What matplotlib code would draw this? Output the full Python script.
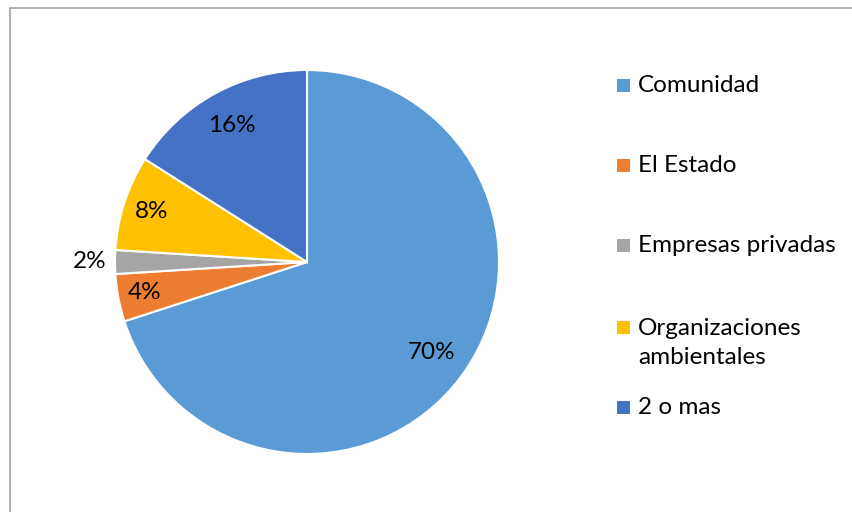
import matplotlib
matplotlib.use("Agg")
import matplotlib.pyplot as plt
from matplotlib.patches import Rectangle
import numpy as np

categories = ["Comunidad", "El Estado", "Empresas privadas", "Organizaciones\nambientales", "2 o mas"]
values = [70, 4, 2, 8, 16]
colors = ["#5B9BD5", "#ED7D31", "#A5A5A5", "#FFC000", "#4472C4"]
label_dist = [0.80, 0.86, 1.13, 0.85, 0.81]

plt.rcParams['font.family'] = ['Lato', 'DejaVu Sans']

W, H = 852, 512
fig = plt.figure(figsize=(W/100, H/100), dpi=100)
cx, cy, r = 307, 262, 192
ax = fig.add_axes([(cx-r)/W, (H-cy-r)/H, 2*r/W, 2*r/H])
wedges, _ = ax.pie(values, colors=colors, startangle=90, counterclock=False,
                   wedgeprops=dict(edgecolor="white", linewidth=1.5))
ax.set_xlim(-1, 1); ax.set_ylim(-1, 1)
ax.set_aspect('equal')
ax.axis('off')

FS = 17.5
for w, v, d in zip(wedges, values, label_dist):
    ang = np.deg2rad((w.theta1 + w.theta2) / 2)
    ax.text(d*np.cos(ang), d*np.sin(ang), f"{v}%", ha='center', va='center',
            fontsize=FS, color='#000000')

# legend
leg_y = [85, 165, 245, 327, 407]
for cat, col, y in zip(categories, colors, leg_y):
    fig.patches.append(Rectangle((617/W, (H-y-6.5)/H), 13/W, 13/H, transform=fig.transFigure,
                                 facecolor=col, edgecolor='none'))
    ty = y + 16 if '\n' in cat else y
    fig.text(638/W, (H-ty)/H, cat, ha='left', va='center',
             fontsize=FS, color='#000000', linespacing=1.5)

fig.patches.append(Rectangle((10/W, -0.1), 1.1, 1.1 - 8/H, transform=fig.transFigure,
                             facecolor='none', edgecolor='#A0A0A0', linewidth=1.2))
fig.savefig("out.png", dpi=100, facecolor='white')
